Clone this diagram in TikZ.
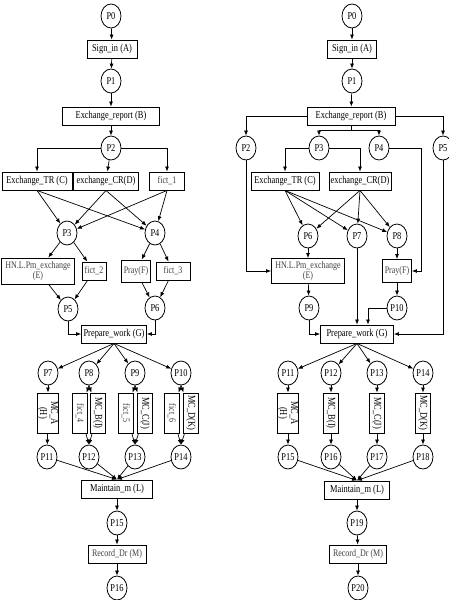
\documentclass[tikz,border=0pt]{standalone}
\usepackage{fontspec}
\setmainfont{Liberation Serif}[FakeStretch=0.8]
\usetikzlibrary{shapes.geometric, arrows.meta, calc}

\begin{document}
\begin{tikzpicture}[x=1pt, y=-1pt, font=\fontsize{10.5}{11}\selectfont,
    pnode/.style={draw, ellipse, line width=0.8pt, inner sep=0pt,
                  minimum width=20pt, minimum height=24pt},
    tnode/.style={draw, rectangle, line width=0.9pt, inner sep=1pt,
                  minimum height=18pt, align=center},
    vnode/.style={tnode, rotate=-90, minimum width=40pt, minimum height=15pt},
    faint/.style={text=black!75, font=\fontsize{10}{10.5}\selectfont},
    flow/.style={-{Latex[length=5pt,width=4pt]}, line width=0.7pt}]
  \useasboundingbox (0,0) rectangle (448,600);

  % left net
  \node[pnode] (p0) at (111,16) {P0};
  \node[tnode, minimum width=50pt] (a) at (112,49) {Sign\_in (A)};
  \node[pnode] (p1) at (111,81) {P1};
  \node[tnode, minimum width=97pt] (b) at (111,116) {Exchange\_report (B)};
  \node[pnode] (p2) at (111,148) {P2};
  \node[tnode, minimum width=70pt] (c) at (37,181) {Exchange\_TR (C)};
  \node[tnode, minimum width=65pt] (d) at (106,181) {exchange\_CR(D)};
  \node[tnode, faint, minimum width=35pt] (f1) at (167,181) {fict\_1};
  \node[pnode] (p3) at (67,233) {P3};
  \node[pnode] (p4) at (155,233) {P4};
  \node[tnode, faint, minimum width=73pt, minimum height=26pt, inner sep=0pt] (e) at (38,271) {HN.L.Pm\_exchange\\(E)};
  \node[tnode, faint, minimum width=24pt] (f2) at (94,271) {fict\_2};
  \node[tnode, faint, minimum width=29pt, minimum height=22pt] (f) at (136,271) {Pray(F)};
  \node[tnode, faint, minimum width=34pt] (f3) at (173,271) {fict\_3};
  \node[pnode] (p5) at (68,309) {P5};
  \node[pnode] (p6) at (155,308) {P6};
  \node[tnode, minimum width=65pt] (g) at (114,334) {Prepare\_work (G)};
  \node[pnode] (p7) at (48,373) {P7};
  \node[pnode] (p8) at (89,373) {P8};
  \node[pnode] (p9) at (135,373) {P9};
  \node[pnode] (p10) at (181,373) {P10};
  \node[vnode, minimum height=21pt, inner sep=0pt] (mca) at (48,413) {MC\_A\\(H)};
  \node[vnode, faint] (f4) at (80,413) {fict\_4};
  \node[vnode] (mcb) at (98,413) {MC\_B(I)};
  \node[vnode, faint] (f5) at (126,413) {fict\_5};
  \node[vnode] (mcc) at (145,413) {MC\_C(J)};
  \node[vnode, faint] (f6) at (172,413) {fict\_6};
  \node[vnode] (mcd) at (191,413) {MC\_D(K)};
  \node[pnode] (p11) at (47,457) {P11};
  \node[pnode] (p12) at (89,457) {P12};
  \node[pnode] (p13) at (135,457) {P13};
  \node[pnode] (p14) at (181,457) {P14};
  \node[tnode, minimum width=71pt] (l) at (117,489) {Maintain\_m (L)};
  \node[pnode] (p15) at (117,523) {P15};
  \node[tnode, faint, minimum width=58pt] (m) at (117,554) {Record\_Dr (M)};
  \node[pnode] (p16) at (117,588) {P16};

  \draw[flow] (p0) -- (a);
  \draw[flow] (a) -- (p1);
  \draw[flow] (p1) -- (b);
  \draw[flow] (b) -- (p2);
  \draw[flow] (p2) -| (c);
  \draw[flow] (p2) -- (d);
  \draw[flow] (p2) -| (f1);
  \foreach \t in {c,d,f1} {
    \draw[flow] (\t.south) -- (p3);
    \draw[flow] (\t.south) -- (p4);
  }
  \draw[flow] (p3) -- (e);
  \draw[flow] (p3) -- (f2);
  \draw[flow] (p4) -- (f);
  \draw[flow] (p4) -- (f3);
  \draw[flow] (e) -- (p5);
  \draw[flow] (f2) -- (p5);
  \draw[flow] (f) -- (p6);
  \draw[flow] (f3) -- (p6);
  \draw[flow] (p5) |- (g);
  \draw[flow] (p6) |- (g);
  \foreach \p in {p7,p8,p9,p10}
    \draw[flow] (g.south) -- (\p);
  \draw[flow] (p7) -- (mca);
  \draw[flow] (mca) -- (p11);
  \draw[flow] (p8.south) -- (f4);
  \draw[flow] (p8.south) -- (mcb);
  \draw[flow] (f4) -- (p12.north);
  \draw[flow] (mcb) -- (p12.north);
  \draw[flow] (p9.south) -- (f5);
  \draw[flow] (p9.south) -- (mcc);
  \draw[flow] (f5) -- (p13.north);
  \draw[flow] (mcc) -- (p13.north);
  \draw[flow] (p10.south) -- (f6);
  \draw[flow] (p10.south) -- (mcd);
  \draw[flow] (f6) -- (p14.north);
  \draw[flow] (mcd) -- (p14.north);
  \foreach \p in {p11,p12,p13,p14}
    \draw[flow] (\p) -- (l.north);
  \draw[flow] (l) -- (p15);
  \draw[flow] (p15) -- (m);
  \draw[flow] (m) -- (p16);

  % right net
  \node[pnode] (rp0) at (352,16) {P0};
  \node[tnode, minimum width=49pt] (ra) at (352,49) {Sign\_in (A)};
  \node[pnode] (rp1) at (352,81) {P1};
  \node[tnode, minimum width=88pt] (rb) at (351,116) {Exchange\_report (B)};
  \coordinate (bsplit) at (351,130);
  \node[pnode] (rp2) at (246,148) {P2};
  \node[pnode] (rp3) at (319,148) {P3};
  \node[pnode] (rp4) at (379,148) {P4};
  \node[pnode] (rp5) at (443,148) {P5};
  \node[tnode, minimum width=68pt] (rc) at (285,181) {Exchange\_TR (C)};
  \node[tnode, minimum width=62pt] (rd) at (360,181) {exchange\_CR(D)};
  \node[pnode] (rp6) at (308,236) {P6};
  \node[pnode] (rp7) at (357,236) {P7};
  \node[pnode] (rp8) at (397,236) {P8};
  \node[tnode, faint, minimum width=73pt, minimum height=25pt, inner sep=0pt] (re) at (308,271) {HN.L.Pm\_exchange\\(E)};
  \node[tnode, faint, minimum width=29pt, minimum height=23pt] (rf) at (397,271) {Pray(F)};
  \coordinate (fcorner) at (421,271);
  \node[pnode] (rp9) at (309,308) {P9};
  \node[pnode] (rp10) at (397,308) {P10};
  \node[tnode, minimum width=73pt] (rg) at (357,334) {Prepare\_work (G)};
  \node[pnode] (rp11) at (288,373) {P11};
  \node[pnode] (rp12) at (331,373) {P12};
  \node[pnode] (rp13) at (377,373) {P13};
  \node[pnode] (rp14) at (423,373) {P14};
  \node[vnode, minimum height=20pt, inner sep=0pt] (rmca) at (288,413) {MC\_A\\(H)};
  \node[vnode] (rmcb) at (331,413) {MC\_B(I)};
  \node[vnode] (rmcc) at (377,413) {MC\_C(J)};
  \node[vnode] (rmcd) at (423,413) {MC\_D(K)};
  \node[pnode] (rp15) at (288,457) {P15};
  \node[pnode] (rp16) at (331,457) {P16};
  \node[pnode] (rp17) at (377,457) {P17};
  \node[pnode] (rp18) at (423,457) {P18};
  \node[tnode, minimum width=65pt] (rl) at (357,490) {Maintain\_m (L)};
  \node[pnode] (rp19) at (357,523) {P19};
  \node[tnode, faint, minimum width=57pt] (rm) at (358,554) {Record\_Dr (M)};
  \node[pnode] (rp20) at (358,588) {P20};

  \draw[flow] (rp0) -- (ra);
  \draw[flow] (ra) -- (rp1);
  \draw[flow] (rp1) -- (rb);
  \draw[flow] (rb) -| (rp2);
  \draw[flow] (rb) -| (rp5);
  \draw[line width=0.7pt] (rb) -- (bsplit);
  \draw[flow] (bsplit) -| (rp3);
  \draw[flow] (bsplit) -| (rp4);
  \draw[flow] (rp3) -| (rc);
  \draw[flow] (rp3) -| (rd);
  \draw[flow] (rp4) -| (fcorner) -- (rf);
  \foreach \t in {rc,rd} {
    \draw[flow] (\t.south) -- (rp6);
    \draw[flow] (\t.south) -- (rp7);
    \draw[flow] (\t.south) -- (rp8);
  }
  \draw[flow] (rp2) |- (re);
  \draw[flow] (rp6) -- (re);
  \draw[flow] (rp8) -- (rf);
  \draw[flow] (re) -- (rp9);
  \draw[flow] (rf) -- (rp10);
  \draw[flow] (rp7) -- (rg);
  \draw[flow] (rp9) |- (rg);
  \draw[flow] (rp10) -| ($(rg.north)+(11,0)$);
  \draw[flow] (rp5) |- (rg);
  \foreach \p in {rp11,rp12,rp13,rp14}
    \draw[flow] (rg.south) -- (\p);
  \draw[flow] (rp11) -- (rmca);
  \draw[flow] (rp12) -- (rmcb);
  \draw[flow] (rp13) -- (rmcc);
  \draw[flow] (rp14) -- (rmcd);
  \draw[flow] (rmca) -- (rp15);
  \draw[flow] (rmcb) -- (rp16);
  \draw[flow] (rmcc) -- (rp17);
  \draw[flow] (rmcd) -- (rp18);
  \foreach \p in {rp15,rp16,rp17,rp18}
    \draw[flow] (\p) -- (rl.north);
  \draw[flow] (rl) -- (rp19);
  \draw[flow] (rp19) -- (rm);
  \draw[flow] (rm) -- (rp20);
\end{tikzpicture}
\end{document}
